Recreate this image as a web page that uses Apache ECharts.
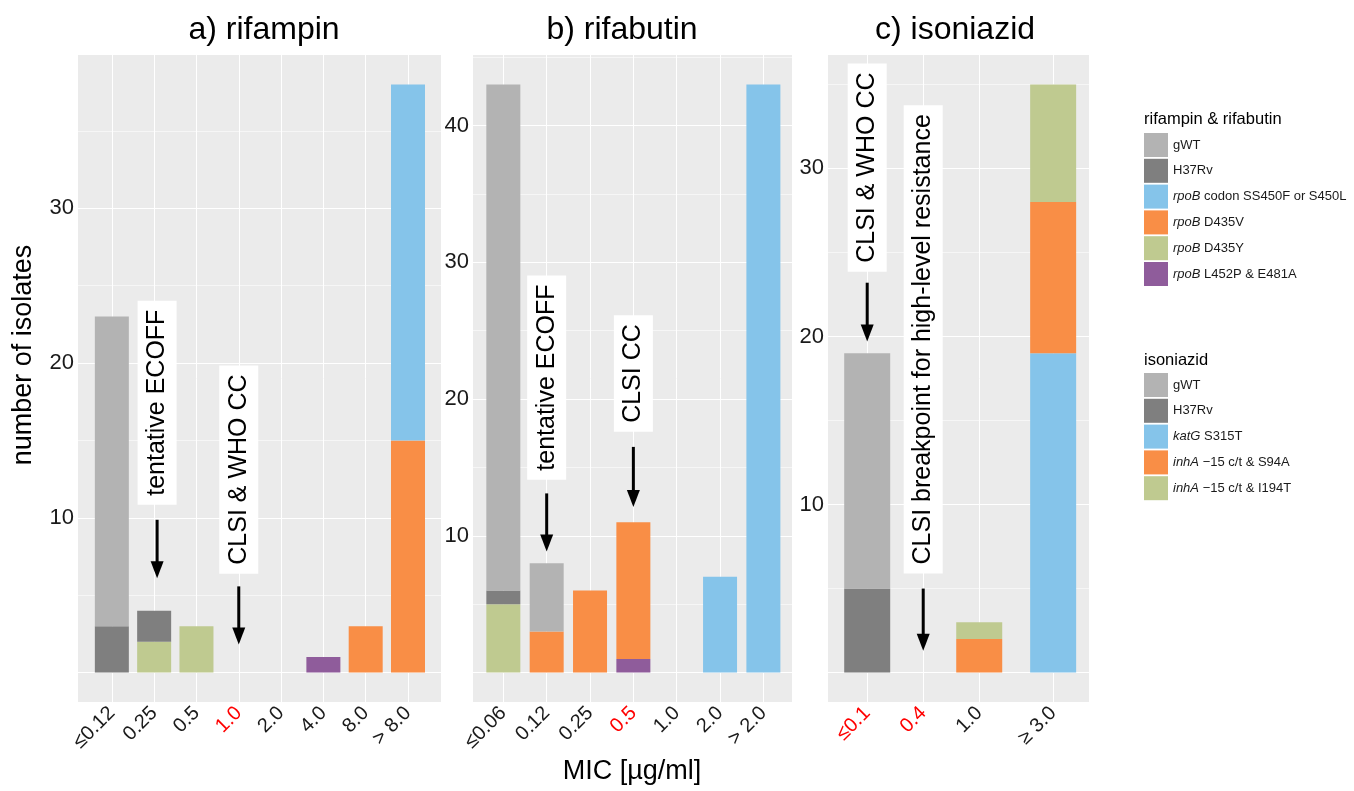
<!DOCTYPE html>
<html>
<head>
<meta charset="utf-8">
<title>MIC distributions</title>
<script src="https://cdn.jsdelivr.net/npm/echarts@6.0.0/dist/echarts.min.js"></script>
<style>
html, body { margin: 0; padding: 0; background: #fff; }
#chart { width: 1354px; height: 791px; }
</style>
</head>
<body>
<div id="chart"></div>
<script>
'use strict';

// a) rifampin
var rifCats = ['≤0.12', '0.25', '0.5', '1.0', '2.0', '4.0', '8.0', '> 8.0'];
var rifGWT = [20, 0, 0, 0, 0, 0, 0, 0];
var rifH37 = [3, 2, 0, 0, 0, 0, 0, 0];
var rifS450 = [0, 0, 0, 0, 0, 0, 0, 23];
var rifD435V = [0, 0, 0, 0, 0, 0, 3, 15];
var rifD435Y = [0, 2, 3, 0, 0, 0, 0, 0];
var rifL452P = [0, 0, 0, 0, 0, 1, 0, 0];

// b) rifabutin
var rfbCats = ['≤0.06', '0.12', '0.25', '0.5', '1.0', '2.0', '> 2.0'];
var rfbGWT = [37, 5, 0, 0, 0, 0, 0];
var rfbH37 = [1, 0, 0, 0, 0, 0, 0];
var rfbS450 = [0, 0, 0, 0, 0, 7, 43];
var rfbD435V = [0, 3, 6, 10, 0, 0, 0];
var rfbD435Y = [5, 0, 0, 0, 0, 0, 0];
var rfbL452P = [0, 0, 0, 1, 0, 0, 0];

// c) isoniazid
var inhCats = ['≤0.1', '0.4', '1.0', '≥ 3.0'];
var inhGWT = [14, 0, 0, 0];
var inhH37 = [5, 0, 0, 0];
var inhKatG = [0, 0, 0, 19];
var inhS94A = [0, 0, 2, 9];
var inhI194T = [0, 0, 1, 7];

// breakpoints shown in red
var rifRed = ['1.0'];
var rfbRed = ['0.5'];
var inhRed = ['≤0.1', '0.4'];

// y ticks
var rifLines = [0, 5, 10, 15, 20, 25, 30, 35];
var rifLabels = [10, 20, 30];
var rfbLines = [0, 5, 10, 15, 20, 25, 30, 35, 40, 45];
var rfbLabels = [10, 20, 30, 40];
var inhLines = [0, 5, 10, 15, 20, 25, 30, 35];
var inhLabels = [10, 20, 30];

var rifNames = ['gWT', 'H37Rv', 'rpoB codon SS450F or S450L', 'rpoB D435V', 'rpoB D435Y', 'rpoB L452P & E481A'];
var inhNames = ['gWT', 'H37Rv', 'katG S315T', 'inhA −15 c/t & S94A', 'inhA −15 c/t & I194T'];

// x positions (isoniazid axis is not evenly spaced)
var rifPos = rifCats.map(function (c, i) { return i; });
var rfbPos = rfbCats.map(function (c, i) { return i; });
var inhPos = [0, 1, 2, 3.32];

var font = '"Liberation Sans", Arial, sans-serif';
var ink = '#1a1a1a';
var col = {
	gWT: '#b3b3b3',
	H37Rv: '#7f7f7f',
	blue: '#85c4ea',
	orange: '#f98e46',
	green: '#bfca90',
	purple: '#8f5c9b'
};

var chart = echarts.init(document.getElementById('chart'));

// value first so the stack runs on y
function bar(name, idx, pos, vals, color, width) {
	return {
		name: name,
		type: 'bar',
		stack: 'p' + idx,
		xAxisIndex: idx,
		yAxisIndex: idx,
		barWidth: width,
		encode: { x: 1, y: 0 },
		data: vals.map(function (v, i) { return [v, pos[i]]; }),
		itemStyle: { color: color },
		emphasis: { disabled: true }
	};
}

function xAx(idx, cats, pos, min, max, red) {
	return {
		type: 'value',
		gridIndex: idx,
		min: min,
		max: max,
		axisLine: { show: false },
		axisTick: { show: false, customValues: pos },
		axisLabel: {
			customValues: pos,
			rotate: 45,
			margin: 8,
			fontSize: 20,
			fontFamily: font,
			color: ink,
			formatter: function (v) {
				var i = 0;
				pos.forEach(function (p, k) { if (Math.abs(p - v) < 1e-6) i = k; });
				var t = cats[i];
				return red.indexOf(t) >= 0 ? '{r|' + t + '}' : t;
			},
			rich: { r: { color: '#ff0000', fontSize: 20, fontFamily: font } }
		},
		splitLine: { show: true, lineStyle: { color: '#ffffff', width: 1 } }
	};
}

function yAx(idx, min, max, lines, labels) {
	return {
		type: 'value',
		gridIndex: idx,
		min: min,
		max: max,
		axisLine: { show: false },
		axisTick: { show: false, customValues: lines },
		axisLabel: { customValues: labels, margin: 4, fontSize: 22, fontFamily: font, color: ink },
		splitLine: { show: true, lineStyle: { color: ['#ffffff', '#f6f6f6'], width: 1 } }
	};
}

function legendFmt(name) {
	var m = name.match(/^(rpoB|katG|inhA)(.*)$/);
	return m ? '{i|' + m[1] + '}' + m[2] : name;
}

function legend(names, top) {
	return {
		data: names,
		orient: 'vertical',
		left: 1144,
		top: top,
		padding: 0,
		icon: 'rect',
		itemWidth: 24,
		itemHeight: 24,
		itemGap: 1.8,
		selectedMode: false,
		formatter: legendFmt,
		textStyle: {
			fontSize: 13,
			fontFamily: font,
			color: ink,
			rich: { i: { fontStyle: 'italic', fontSize: 13, fontFamily: font, color: ink } }
		}
	};
}

var gridBase = { top: 55, height: 647, show: true, backgroundColor: '#ebebeb', borderWidth: 0, outerBoundsMode: 'none' };

var option = {
	animation: false,
	textStyle: { fontFamily: font },
	grid: [
		Object.assign({ left: 78, width: 363 }, gridBase),
		Object.assign({ left: 473, width: 319 }, gridBase),
		Object.assign({ left: 828, width: 261 }, gridBase)
	],
	xAxis: [
		xAx(0, rifCats, rifPos, -0.8, 7.78, rifRed),
		xAx(1, rfbCats, rfbPos, -0.7, 6.66, rfbRed),
		xAx(2, inhCats, inhPos, -0.7, 3.96, inhRed)
	],
	yAxis: [
		yAx(0, -1.9, 39.9, rifLines, rifLabels),
		yAx(1, -2.15, 45.15, rfbLines, rfbLabels),
		yAx(2, -1.75, 36.75, inhLines, inhLabels)
	],
	legend: [legend(rifNames, 133), legend(inhNames, 373)],
	series: [
		bar(rifNames[5], 0, rifPos, rifL452P, col.purple, 34),
		bar(rifNames[4], 0, rifPos, rifD435Y, col.green, 34),
		bar(rifNames[3], 0, rifPos, rifD435V, col.orange, 34),
		bar(rifNames[2], 0, rifPos, rifS450, col.blue, 34),
		bar('H37Rv', 0, rifPos, rifH37, col.H37Rv, 34),
		bar('gWT', 0, rifPos, rifGWT, col.gWT, 34),

		bar(rifNames[5], 1, rfbPos, rfbL452P, col.purple, 34),
		bar(rifNames[4], 1, rfbPos, rfbD435Y, col.green, 34),
		bar(rifNames[3], 1, rfbPos, rfbD435V, col.orange, 34),
		bar(rifNames[2], 1, rfbPos, rfbS450, col.blue, 34),
		bar('H37Rv', 1, rfbPos, rfbH37, col.H37Rv, 34),
		bar('gWT', 1, rfbPos, rfbGWT, col.gWT, 34),

		bar(inhNames[2], 2, inhPos, inhKatG, col.blue, 46),
		bar(inhNames[3], 2, inhPos, inhS94A, col.orange, 46),
		bar(inhNames[4], 2, inhPos, inhI194T, col.green, 46),
		bar('H37Rv', 2, inhPos, inhH37, col.H37Rv, 46),
		bar('gWT', 2, inhPos, inhGWT, col.gWT, 46)
	]
};
chart.setOption(option);

// annotations: label box bottom and arrow in data units
var notes = [
	{ grid: 0, x: 1.07, text: 'tentative ECOFF', box: 10.84, from: 9.87, to: 6.1 },
	{ grid: 0, x: 3, text: 'CLSI & WHO CC', box: 6.39, from: 5.57, to: 1.81 },
	{ grid: 1, x: 1, text: 'tentative ECOFF', box: 14.1, from: 13.1, to: 8.85 },
	{ grid: 1, x: 3, text: 'CLSI CC', box: 17.6, from: 16.5, to: 12.1 },
	{ grid: 2, x: 0, text: 'CLSI & WHO CC', box: 23.85, from: 23.2, to: 19.7 },
	{ grid: 2, x: 1, text: 'CLSI breakpoint for high-level resistance', box: 5.9, from: 5.0, to: 1.3 }
];

var graphics = [];
function txt(x, y, text, size, align, rot) {
	graphics.push({
		type: 'text', x: x, y: y, rotation: rot || 0,
		style: { text: text, fontSize: size, fontFamily: font, fill: '#000', align: align, verticalAlign: 'middle' }
	});
}
txt(264, 30, 'a) rifampin', 32, 'center');
txt(622, 30, 'b) rifabutin', 32, 'center');
txt(955, 30, 'c) isoniazid', 32, 'center');
txt(632, 772, 'MIC [µg/ml]', 27, 'center');
txt(24, 355, 'number of isolates', 27, 'center', Math.PI / 2);
txt(1144, 119, 'rifampin & rifabutin', 16.5, 'left');
txt(1144, 360, 'isoniazid', 16.5, 'left');

notes.forEach(function (n) {
	var b = chart.convertToPixel({ gridIndex: n.grid }, [n.x, n.box]);
	var p1 = chart.convertToPixel({ gridIndex: n.grid }, [n.x, n.from]);
	var p2 = chart.convertToPixel({ gridIndex: n.grid }, [n.x, n.to]);
	graphics.push({
		type: 'text', x: b[0], y: b[1], rotation: Math.PI / 2, z: 10,
		style: {
			text: n.text, fontSize: 25, fontFamily: font, fill: '#000',
			align: 'left', verticalAlign: 'middle',
			backgroundColor: '#ffffff', padding: [7, 9]
		}
	});
	graphics.push({
		type: 'line', z: 10,
		shape: { x1: p1[0], y1: p1[1], x2: p2[0], y2: p2[1] - 12 },
		style: { stroke: '#000', lineWidth: 3 }
	});
	graphics.push({
		type: 'polygon', z: 10,
		shape: { points: [[p2[0] - 6.5, p2[1] - 17], [p2[0] + 6.5, p2[1] - 17], [p2[0], p2[1]]] },
		style: { fill: '#000' }
	});
});
chart.setOption({ graphic: graphics });
</script>
</body>
</html>
